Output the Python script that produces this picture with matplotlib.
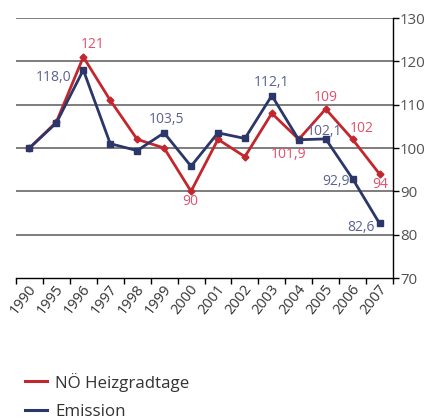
import matplotlib
matplotlib.use("Agg")
import matplotlib.pyplot as plt
import matplotlib.transforms as mtransforms
from matplotlib.lines import Line2D
import numpy as np

plt.rcParams['font.family'] = ['Open Sans', 'DejaVu Sans']

years = ["1990", "1995", "1996", "1997", "1998", "1999", "2000", "2001",
         "2002", "2003", "2004", "2005", "2006", "2007"]
heizgradtage = [100, 106, 121, 111, 102, 100, 90, 102, 98, 108, 102, 109, 102, 94]
emission = [100, 105.8, 118.0, 101.0, 99.4, 103.5, 95.8, 103.5, 102.2, 112.1,
            101.9, 102.1, 92.9, 82.6]
series_names = ["NÖ Heizgradtage", "Emission"]

# labels: (text, anchor series, index, colour key, dx px, dy px)
labels = [
    ("118,0", "e", 2, "e", -30, -7),
    ("121", "h", 2, "h", 9, 13),
    ("103,5", "e", 5, "e", 2, 13),
    ("90", "h", 6, "h", -1, -10),
    ("112,1", "e", 9, "e", 0, 13),
    ("109", "h", 11, "h", 0, 12),
    ("102,1", "e", 11, "e", -1, 7),
    ("102", "h", 12, "h", 9, 11),
    ("101,9", "e", 10, "h", -10, -15),
    ("92,9", "e", 12, "e", -17, -3),
    ("94", "h", 13, "h", 1, -10),
    ("82,6", "e", 13, "e", -19, -4),
]
label_colors = {"h": "#e4506a", "e": "#5a6193"}

red = "#c1272d"
blue = "#2b3669"

fig = plt.figure(figsize=(4.25, 4.19), dpi=100)
ax = fig.add_axes([16/425, 1-278/419, (393-16)/425, (278-18)/419])

x = np.arange(len(years))
ax.plot(x, heizgradtage, color=red, lw=2.0, marker="D", ms=3.5, zorder=3)
ax.plot(x, emission, color=blue, lw=2.0, marker="s", ms=5, zorder=4)

for txt, s, i, c, dx, dy in labels:
    yv = heizgradtage[i] if s == "h" else emission[i]
    ax.annotate(txt, (x[i], yv), xytext=(dx, dy), textcoords="offset pixels",
                ha="center", va="center", fontsize=10, color=label_colors[c],
                zorder=5)

ax.set_xlim(-0.5, len(years) - 0.5)
ax.set_ylim(70, 130)
ax.set_yticks([70, 80, 90, 100, 110, 120, 130])
for v in [80, 90, 100, 110, 120, 130]:
    ax.axhline(v, color="#5a5a5a", lw=1.1, zorder=1)

ax.yaxis.tick_right()
ax.tick_params(axis="y", direction="out", length=4, width=1, labelsize=10.8,
               colors="black", labelcolor="#505050", pad=1)

ax.set_xticks(x)
ax.set_xticklabels(years, rotation=52, ha="right", va="top", fontsize=10.5,
                   color="#333333")
ax.tick_params(axis="x", which="major", length=0, pad=3)
ax.set_xticks(np.arange(-0.5, len(years)), minor=True)
ax.tick_params(axis="x", which="minor", direction="out", length=4, width=1)
shift = mtransforms.ScaledTranslation(10/100, 0, fig.dpi_scale_trans)
for lbl in ax.get_xticklabels():
    lbl.set_transform(lbl.get_transform() + shift)

for side in ["left", "top"]:
    ax.spines[side].set_visible(False)
ax.spines["right"].set_linewidth(1.0)
ax.spines["bottom"].set_linewidth(1.0)

# legend drawn manually
for k, (name, col) in enumerate(zip(series_names, [red, blue])):
    yy = 1 - (381 + 29*k)/419
    fig.add_artist(Line2D([25/425, 47/425], [yy, yy], color=col, lw=2.2,
                          transform=fig.transFigure))
    fig.text(55/425, yy, name, fontsize=12.2, color="#333333",
             ha="left", va="center_baseline")

fig.savefig("out.png", dpi=100)
